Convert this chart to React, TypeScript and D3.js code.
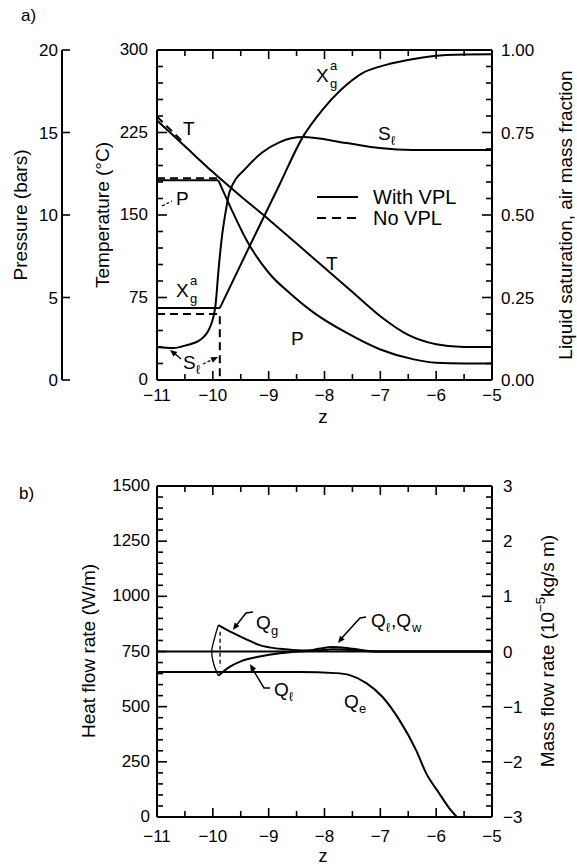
import React from 'react';
import * as d3 from 'd3';

// ---------- tick values ----------
const zTicks = [-11, -10, -9, -8, -7, -6, -5];
const tempTicks = [0, 75, 150, 225, 300];
const pressTicks = [0, 5, 10, 15, 20];
const fracTicks = [0, 0.25, 0.5, 0.75, 1];
const fracLabels = ['0.00', '0.25', '0.50', '0.75', '1.00'];
const heatTicks = [0, 250, 500, 750, 1000, 1250, 1500];
const massTicks = [-3, -2, -1, 0, 1, 2, 3];

// ---------- panel a : with VPL (solid) ----------
const tZ = [-11, -10.5, -10, -9.5, -9, -8.5, -8, -7.5, -7, -6.5, -6, -5.5, -5];
const tWith = [236, 212.5, 189, 167, 146, 124, 102, 80, 58, 41, 32.5, 30, 30];
const pPlateauZ = [-11, -9.9];
const pPlateau = [12.1, 12.1];
const pZ = [-9.9, -9.66, -9.4, -9, -8.6, -8.2, -7.6, -7, -6.4, -6, -5.5, -5];
const pWith = [12.1, 10.3, 8.5, 6.5, 5.2, 4.1, 2.85, 1.85, 1.25, 1.05, 1.0, 1.0];
const xgPlateauZ = [-11, -9.875];
const xgPlateau = [0.218, 0.218];
const xgZ = [-9.875, -9.34, -8.8, -8.39, -8.04, -7.7, -7.32, -6.9, -6.43, -5.82, -5];
const xgWith = [0.218, 0.406, 0.594, 0.736, 0.818, 0.88, 0.93, 0.955, 0.972, 0.985, 0.987];
const slZ = [-11, -10.71, -10.46, -10.23, -10.05, -9.95, -9.9, -9.84, -9.77, -9.7, -9.39, -9.11, -8.8, -8.39, -7.61, -7.02, -6.43, -5];
const slWith = [0.1, 0.097, 0.106, 0.121, 0.16, 0.23, 0.33, 0.43, 0.51, 0.57, 0.645, 0.69, 0.721, 0.736, 0.718, 0.703, 0.697, 0.697];

// ---------- panel a : no VPL (dashed) ----------
const tNoZ = [-11, -10.5];
const tNo = [239.5, 214.5];
const pNoZ = [-11, -9.9];
const pNo = [12.22, 12.22];
const xgNoZ = [-11, -9.875, -9.875];
const xgNo = [0.2, 0.2, 0];

// ---------- panel b ----------
const baseZ = [-11, -5];
const baseVals = [750, 750];
const qeZ = [-11, -8.45, -7.8, -7.55, -7.25, -6.96, -6.66, -6.36, -6.18, -5.95, -5.78, -5.63];
const qeVals = [657, 657, 652, 643, 607, 544, 440, 303, 199, 109, 45, 0];
const qlZ = [-9.9, -9.7, -9.5, -9.16, -8.8, -8.57, -8.3, -8.1, -7.86, -7.6, -7.35, -7.14, -6.9, -5];
const qlVals = [640, 680, 705, 727, 742, 748, 753, 762, 770, 766, 757, 751, 750, 750];
const qgZ = [-9.9, -9.64, -9.4, -9.16, -8.8, -8.57, -8.3, -8.0, -7.86, -7.6, -7.3, -7.0, -5];
const qgVals = [870, 834, 805, 779, 762, 757, 754, 757, 760, 758, 753, 750, 750];
const arcZ = [-9.9, -9.97, -10.02, -9.98, -9.9];
const arcVals = [870, 810, 750, 690, 640];
const dashVZ = [-9.87, -9.87];
const dashVVals = [840, 680];

const FONT = 'Liberation Sans, Arial, Helvetica, sans-serif';

export default function App() {
  const x = d3.scaleLinear().domain([-11, -5]).range([157, 492]);
  const yT = d3.scaleLinear().domain([0, 300]).range([380, 50]);
  const yP = d3.scaleLinear().domain([0, 20]).range([380, 50]);
  const yF = d3.scaleLinear().domain([0, 1]).range([380, 50]);
  const yH = d3.scaleLinear().domain([0, 1500]).range([817, 486]);
  const yM = d3.scaleLinear().domain([-3, 3]).range([817, 486]);

  const path = (zs: number[], vs: number[], ys: any, curve: any = d3.curveMonotoneX) =>
    d3.line<number>().x((_, i) => x(zs[i])).y((_, i) => ys(vs[i])).curve(curve)(vs) || '';

  const curveStyle = { fill: 'none', stroke: '#000', strokeWidth: 2 } as const;
  const dashStyle = { fill: 'none', stroke: '#000', strokeWidth: 2, strokeDasharray: '8,5' } as const;

  const zMinor = d3.range(-11, -4.99, 0.5);
  const tMinor = d3.range(0, 300.01, 15);
  const fMinor = d3.range(0, 1.0001, 0.05);
  const hMinor = d3.range(0, 1500.01, 50);
  const mMinor = d3.range(-3, 3.001, 0.2);

  const axisLine = { stroke: '#000', strokeWidth: 2 };
  const tickLine = { stroke: '#000', strokeWidth: 1.6 };

  const xAxis = (yTop: number, yBot: number, labelDy: number, key: string) => (
    <g key={key}>
      {zMinor.map((z, i) => {
        const major = Math.abs(z - Math.round(z)) < 1e-6;
        const L = major ? 9 : 6;
        return (
          <g key={i}>
            <line x1={x(z)} x2={x(z)} y1={yBot} y2={yBot - L} style={tickLine} />
            <line x1={x(z)} x2={x(z)} y1={yTop} y2={yTop + L} style={tickLine} />
          </g>
        );
      })}
      {zTicks.map((z) => (
        <text key={z} x={x(z)} y={yBot + labelDy} textAnchor="middle" fontSize={17} fontFamily={FONT}>
          {'\u2212' + Math.abs(z)}
        </text>
      ))}
      <line x1={157} x2={492} y1={yTop} y2={yTop} style={axisLine} />
      <line x1={157} x2={492} y1={yBot} y2={yBot} style={axisLine} />
    </g>
  );

  const leftTicks = (minor: number[], majorStep: number, ys: any, xPos: number) =>
    minor.map((v, i) => {
      const major = Math.abs(v / majorStep - Math.round(v / majorStep)) < 1e-6;
      return <line key={i} x1={xPos} x2={xPos + (major ? 10 : 6)} y1={ys(v)} y2={ys(v)} style={tickLine} />;
    });
  const rightTicks = (minor: number[], majorStep: number, ys: any, xPos: number) =>
    minor.map((v, i) => {
      const major = Math.abs(v / majorStep - Math.round(v / majorStep)) < 1e-6;
      return <line key={i} x1={xPos} x2={xPos - (major ? 10 : 6)} y1={ys(v)} y2={ys(v)} style={tickLine} />;
    });

  const arrowHead = (x1: number, y1: number, x2: number, y2: number) => {
    const a = Math.atan2(y2 - y1, x2 - x1);
    const L = 7, w = 3;
    const bx = x2 - L * Math.cos(a), by = y2 - L * Math.sin(a);
    const px = -Math.sin(a) * w, py = Math.cos(a) * w;
    return `M${x2},${y2}L${bx + px},${by + py}L${bx - px},${by - py}Z`;
  };

  const lbl = { fontFamily: FONT, fontSize: 19 } as const;
  const sub = { fontFamily: FONT, fontSize: 13 } as const;

  return (
    <svg width={577} height={867} style={{ position: 'absolute', left: 0, top: 0, background: '#fff' }}>
      {/* ================= PANEL A ================= */}
      <text x={21} y={21} fontSize={17} fontFamily={FONT}>a)</text>

      {/* pressure axis */}
      <line x1={62} x2={62} y1={50} y2={380} style={axisLine} />
      {pressTicks.map((p) => (
        <g key={p}>
          <line x1={62} x2={70} y1={yP(p)} y2={yP(p)} style={tickLine} />
          <text x={58} y={yP(p) + 6} textAnchor="end" fontSize={17} fontFamily={FONT}>{p}</text>
        </g>
      ))}
      <text transform="translate(20,215) rotate(-90)" textAnchor="middle" dominantBaseline="central" fontSize={19} fontFamily={FONT}>
        Pressure (bars)
      </text>

      {/* temperature axis */}
      <line x1={157} x2={157} y1={50} y2={380} style={axisLine} />
      {leftTicks(tMinor, 75, yT, 157)}
      {tempTicks.map((t) => (
        <text key={t} x={148} y={yT(t) + 5} textAnchor="end" fontSize={17} fontFamily={FONT}>{t}</text>
      ))}
      <text transform="translate(102,215) rotate(-90)" textAnchor="middle" dominantBaseline="central" fontSize={19} fontFamily={FONT}>
        Temperature (°C)
      </text>

      {/* right fraction axis */}
      <line x1={492} x2={492} y1={50} y2={380} style={axisLine} />
      {rightTicks(fMinor, 0.25, yF, 492)}
      {fracTicks.map((f, i) => (
        <text key={f} x={501} y={yF(f) + 6} textAnchor="start" fontSize={17} fontFamily={FONT}>{fracLabels[i]}</text>
      ))}
      <text transform="translate(565,215) rotate(-90)" textAnchor="middle" dominantBaseline="central" fontSize={19} fontFamily={FONT}>
        Liquid saturation, air mass fraction
      </text>

      {xAxis(50, 380, 21, 'xa')}
      <text x={323} y={423} textAnchor="middle" fontSize={19} fontFamily={FONT}>z</text>

      {/* curves a */}
      <path d={path(tZ, tWith, yT)} style={curveStyle} />
      <path d={path(pPlateauZ, pPlateau, yP, d3.curveLinear)} style={curveStyle} />
      <path d={path(pZ, pWith, yP)} style={curveStyle} />
      <path d={path(xgPlateauZ, xgPlateau, yF, d3.curveLinear)} style={curveStyle} />
      <path d={path(xgZ, xgWith, yF)} style={curveStyle} />
      <path d={path(slZ, slWith, yF)} style={curveStyle} />

      <path d={path(tNoZ, tNo, yT, d3.curveLinear)} style={dashStyle} />
      <path d={path(pNoZ, pNo, yP, d3.curveLinear)} style={dashStyle} />
      <path d={path(xgNoZ, xgNo, yF, d3.curveLinear)} style={dashStyle} />

      {/* labels a */}
      <text x={183} y={135} {...lbl}>T</text>
      <text x={176} y={205} {...lbl}>P</text>
      <path d="M162,206 L172,201" style={{ stroke: '#000', strokeWidth: 1.2, strokeDasharray: '3,2' }} />
      <text x={176} y={297} {...lbl}>X</text>
      <text x={190} y={303} {...sub}>g</text>
      <text x={190} y={285} {...sub}>a</text>
      <text x={183} y={369} {...lbl}>S</text>
      <text x={196} y={374} {...sub}>ℓ</text>
      <path d="M181,359 L172,351" style={{ stroke: '#000', strokeWidth: 1.3 }} />
      <path d={arrowHead(181, 359, 170, 350)} fill="#000" />
      <path d="M203,364 L216,358" style={{ stroke: '#000', strokeWidth: 1.3, strokeDasharray: '3,2' }} />
      <path d={arrowHead(203, 364, 218, 357)} fill="#000" />

      <text x={316} y={82} {...lbl}>X</text>
      <text x={330} y={88} {...sub}>g</text>
      <text x={330} y={70} {...sub}>a</text>
      <text x={378} y={140} {...lbl}>S</text>
      <text x={391} y={145} {...sub}>ℓ</text>
      <text x={326} y={270} {...lbl}>T</text>
      <text x={291} y={345} {...lbl}>P</text>

      {/* legend */}
      <line x1={317} x2={358} y1={197} y2={197} style={{ stroke: '#000', strokeWidth: 2 }} />
      <text x={373} y={204} fontSize={20} fontFamily={FONT}>With VPL</text>
      <line x1={317} x2={358} y1={218} y2={218} style={{ stroke: '#000', strokeWidth: 2, strokeDasharray: '9,6' }} />
      <text x={373} y={225} fontSize={20} fontFamily={FONT}>No VPL</text>

      {/* ================= PANEL B ================= */}
      <text x={19} y={499} fontSize={17} fontFamily={FONT}>b)</text>

      <line x1={157} x2={157} y1={486} y2={817} style={axisLine} />
      {leftTicks(hMinor, 250, yH, 157)}
      {heatTicks.map((h) => (
        <text key={h} x={150} y={yH(h) + 5} textAnchor="end" fontSize={17} fontFamily={FONT}>{h}</text>
      ))}
      <text transform="translate(88,651) rotate(-90)" textAnchor="middle" dominantBaseline="central" fontSize={19} fontFamily={FONT}>
        Heat flow rate (W/m)
      </text>

      <line x1={492} x2={492} y1={486} y2={817} style={axisLine} />
      {rightTicks(mMinor, 1, yM, 492)}
      {massTicks.map((m) => (
        <text key={m} x={503} y={yM(m) + 6} textAnchor="start" fontSize={17} fontFamily={FONT}>
          {m < 0 ? '\u2212' + Math.abs(m) : String(m)}
        </text>
      ))}
      <text transform="translate(547,651) rotate(-90)" textAnchor="middle" dominantBaseline="central" fontSize={19} fontFamily={FONT}>
        <tspan>Mass flow rate (10</tspan>
        <tspan dy={-7} fontSize={13}>−5</tspan>
        <tspan dy={7}>kg/s m)</tspan>
      </text>

      {xAxis(486, 817, 25, 'xb')}
      <text x={323} y={862} textAnchor="middle" fontSize={18} fontFamily={FONT}>z</text>

      {/* curves b */}
      <path d={path(baseZ, baseVals, yH, d3.curveLinear)} style={curveStyle} />
      <path d={path(qeZ, qeVals, yH)} style={curveStyle} />
      <path d={path(qlZ, qlVals, yH)} style={curveStyle} />
      <path d={path(qgZ, qgVals, yH)} style={curveStyle} />
      <path d={path(arcZ, arcVals, yH, d3.curveCatmullRom)} style={{ fill: 'none', stroke: '#000', strokeWidth: 1.3 }} />
      <path d={path(dashVZ, dashVVals, yH, d3.curveLinear)} style={{ fill: 'none', stroke: '#000', strokeWidth: 1.3, strokeDasharray: '4,3' }} />

      {/* labels b */}
      <text x={256} y={629} {...lbl}>Q</text>
      <text x={271} y={635} {...sub}>g</text>
      <path d="M253,612 L246,613 L235,627" style={{ fill: 'none', stroke: '#000', strokeWidth: 1.5 }} />
      <path d={arrowHead(240, 620, 233, 630)} fill="#000" />

      <text x={274} y={696} {...lbl}>Q</text>
      <text x={289} y={701} {...sub}>ℓ</text>
      <path d="M270,688 L264,688 L252,668" style={{ fill: 'none', stroke: '#000', strokeWidth: 1.5 }} />
      <path d={arrowHead(258, 678, 250, 664)} fill="#000" />

      <text x={371} y={627} {...lbl}>Q</text>
      <text x={386} y={632} {...sub}>ℓ</text>
      <text x={391} y={627} {...lbl}>,Q</text>
      <text x={412} y={632} {...sub}>w</text>
      <path d="M366,617 L360,618 L340,640" style={{ fill: 'none', stroke: '#000', strokeWidth: 1.5 }} />
      <path d={arrowHead(346, 633, 338, 643)} fill="#000" />

      <text x={344} y={708} {...lbl}>Q</text>
      <text x={359} y={713} {...sub}>e</text>
    </svg>
  );
}
